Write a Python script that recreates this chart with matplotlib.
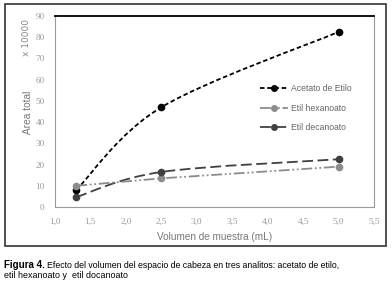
import matplotlib
matplotlib.use("Agg")
import matplotlib.pyplot as plt
from matplotlib.path import Path
from matplotlib.patches import PathPatch, Rectangle
from matplotlib.lines import Line2D
import numpy as np

# data (area total x 10000)
volumen = [1.3, 2.5, 5.0]
acetato = [8.0, 47.0, 82.5]
hexanoato = [10.0, 13.5, 19.0]
decanoato = [4.7, 16.5, 22.5]
series_names = ["Acetato de Etilo", "Etil hexanoato", "Etil decanoato"]
xticks = [1.0, 1.5, 2.0, 2.5, 3.0, 3.5, 4.0, 4.5, 5.0, 5.5]
yticks = [0, 10, 20, 30, 40, 50, 60, 70, 80, 90]


def smooth_path(x, y):
    # excel style smoothed line (cubic bezier, catmull-rom control points)
    p = np.column_stack([x, y]).astype(float)
    n = len(p)
    verts = [p[0]]
    codes = [Path.MOVETO]
    for i in range(n - 1):
        prev = p[i - 1] if i > 0 else p[i]
        nxt = p[i + 2] if i + 2 < n else p[i + 1]
        c1 = p[i] + (p[i + 1] - prev) / 6.0
        c2 = p[i + 1] - (nxt - p[i]) / 6.0
        verts += [c1, c2, p[i + 1]]
        codes += [Path.CURVE4] * 3
    return Path(verts, codes)


W, H = 392.0, 296.0
fig = plt.figure(figsize=(3.92, 2.96), dpi=100)

# outer frame of the chart
fig.patches.append(Rectangle((5 / W, 1 - 246 / H), 381 / W, 242 / H,
                             transform=fig.transFigure, fill=False,
                             edgecolor="#333333", lw=1.2))

ax = fig.add_axes([55 / W, 1 - 207 / H, 319 / W, 191 / H])
ax.set_xlim(1.0, 5.5)
ax.set_ylim(0, 90)
ax.set_xticks(xticks)
ax.set_yticks(yticks)
ax.set_xticklabels([("%.1f" % t).replace(".", ",") for t in xticks])
ax.set_yticklabels([str(t) for t in yticks])
ax.tick_params(length=0, labelsize=6.6, labelcolor="#999999")
ax.tick_params(axis="y", pad=7.5)
ax.tick_params(axis="x", pad=7.5)
for lab in ax.get_xticklabels() + ax.get_yticklabels():
    lab.set_family("Liberation Serif")
for s in ["left", "bottom", "right"]:
    ax.spines[s].set_color("#9a9a9a")
    ax.spines[s].set_linewidth(0.8)
ax.spines["top"].set_color("black")
ax.spines["top"].set_linewidth(1.3)

styles = [
    (acetato, "black", (0, (2.5, 1.5)), True),
    (hexanoato, "#8c8c8c", (0, (6, 1.5, 1, 1.5, 1, 1.5)), False),
    (decanoato, "#404040", (0, (6, 2.5)), True),
]
handles = []
for (vals, col, ls, smooth), name in zip(styles, series_names):
    if smooth:
        ax.add_patch(PathPatch(smooth_path(volumen, vals), fill=False,
                               edgecolor=col, lw=1.3, linestyle=ls))
    else:
        ax.plot(volumen, vals, color=col, lw=1.3, linestyle=ls)
    ax.plot(volumen, vals, "o", color=col, ms=4.5, zorder=5)
    handles.append(Line2D([], [], color=col, lw=1.3, linestyle=ls,
                          marker="o", ms=4, label=name))

leg = ax.legend(handles=handles, loc="center left",
                bbox_to_anchor=(0.643, 0.518), frameon=False,
                borderpad=0, borderaxespad=0,
                handlelength=3.25, labelspacing=1.2, handletextpad=0.35,
                labelcolor="#666666",
                prop={"family": "Liberation Sans", "size": 6.2})

ax.set_xlabel("Volumen de muestra (mL)", fontsize=7.2, color="#777777",
              family="Liberation Sans", va="center")
ax.xaxis.set_label_coords(0.5, -30 / 191)
fig.text(28 / W, 1 - 112 / H, "Area total", rotation=90, fontsize=7.3,
         color="#777777", ha="center", va="center", family="Liberation Sans")
fig.text(27 / W, 1 - 37 / H, "x 10000", rotation=90, fontsize=6.5,
         color="#888888", ha="center", va="center")

t1 = fig.text(4 / W, 1 - 265 / H, "Figura 4.", fontsize=7, weight="bold",
              va="center", family="Liberation Sans")
fig.canvas.draw()
bb = t1.get_window_extent()
fig.text((bb.x1 + 2) / W, 1 - 265 / H,
         "Efecto del volumen del espacio de cabeza en tres analitos: acetato de etilo,",
         fontsize=6.35, va="center", family="Liberation Sans")
fig.text(4 / W, 1 - 275 / H, "etil hexanoato y  etil docanoato",
         fontsize=6.4, va="center", family="Liberation Sans")

fig.savefig("out.png", dpi=100)
